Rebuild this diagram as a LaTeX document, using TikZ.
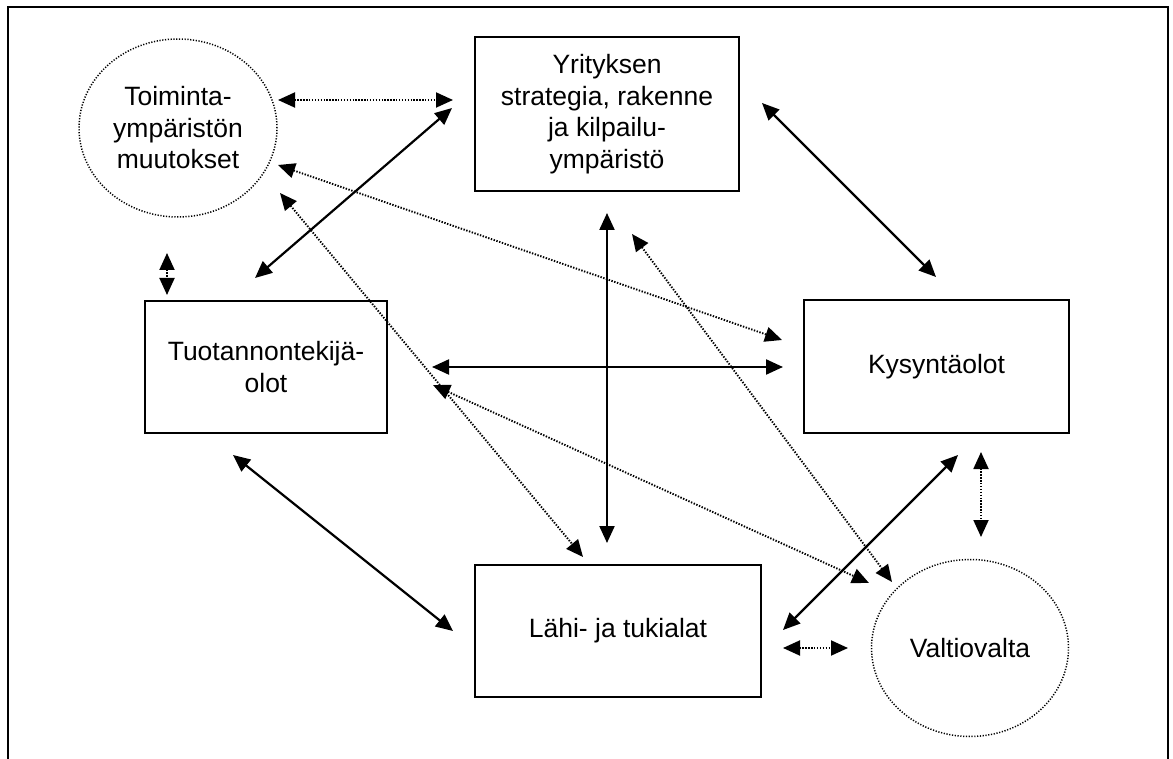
\documentclass[tikz,border=0pt]{standalone}
\usepackage{fontspec}
\setmainfont{Liberation Sans}
\usetikzlibrary{arrows.meta,shapes.geometric}
\begin{document}
\begin{tikzpicture}[x=1pt,y=-1pt,
  every node/.style={font=\fontsize{26.5}{31.5}\selectfont, align=center, inner sep=0pt},
  boxnode/.style={draw, line width=2.3pt, rectangle},
  ovalnode/.style={draw, line width=1.5pt, ellipse, dash pattern=on 1.2pt off 1.6pt},
  solidlink/.style={line width=2.2pt, {Triangle[length=17pt,width=15pt]}-{Triangle[length=17pt,width=15pt]}},
  dotlink/.style={line width=1.9pt, dash pattern=on 1.4pt off 1.5pt, {Triangle[length=17pt,width=15pt]}-{Triangle[length=17pt,width=15pt]}},
  frameline/.style={line width=2.3pt}
]
\useasboundingbox (0,0) rectangle (1173,759);
\draw[frameline] (8,759) -- (8,7) -- (1168,7) -- (1168,759);

\node[ovalnode, minimum width=198pt, minimum height=178pt] (toim) at (178,128) {Toiminta-\\ympäristön\\muutokset};
\node[boxnode, minimum width=264pt, minimum height=154pt] (yrit) at (607,114) {Yrityksen\\strategia, rakenne\\ja kilpailu-\\ympäristö};
\node[boxnode, minimum width=242pt, minimum height=132pt] (tuot) at (266,367) {Tuotannontekijä-\\olot};
\node[boxnode, minimum width=265pt, minimum height=133pt] (kys) at (936.5,366.5) {Kysyntäolot};
\node[boxnode, minimum width=286pt, minimum height=132pt] (lahi) at (618,631) {Lähi- ja tukialat};
\node[ovalnode, minimum width=197pt, minimum height=177pt] (valt) at (970,648) {Valtiovalta};

% connector end points
\coordinate (t1) at (278,100);  \coordinate (y1) at (453,100);
\coordinate (y2) at (452,108);  \coordinate (u1) at (255,278);
\coordinate (t2) at (278,165);  \coordinate (k1) at (782,340);
\coordinate (t3) at (280,193);  \coordinate (l1) at (583,557);
\coordinate (t4) at (167,253);  \coordinate (u2) at (167,295);
\coordinate (y3) at (762,103);  \coordinate (k2) at (936,277);
\coordinate (y4) at (607,213);  \coordinate (l2) at (607,543);
\coordinate (y5) at (632,234);  \coordinate (v1) at (892,582);
\coordinate (u3) at (432,367);  \coordinate (k3) at (783,367);
\coordinate (u4) at (433,385);  \coordinate (v2) at (869,583);
\coordinate (u5) at (233,455);  \coordinate (l3) at (453,631);
\coordinate (k4) at (958,455);  \coordinate (l4) at (783,630);
\coordinate (k5) at (981,452);  \coordinate (v3) at (981,537);
\coordinate (l5) at (783,648);  \coordinate (v4) at (848,648);

\draw[dotlink] (t1) -- (y1);
\draw[solidlink] (y2) -- (u1);
\draw[dotlink] (t2) -- (k1);
\draw[dotlink] (t3) -- (l1);
\draw[dotlink] (t4) -- (u2);
\draw[solidlink] (y3) -- (k2);
\draw[solidlink] (y4) -- (l2);
\draw[dotlink] (y5) -- (v1);
\draw[solidlink] (u3) -- (k3);
\draw[dotlink] (u4) -- (v2);
\draw[solidlink] (u5) -- (l3);
\draw[solidlink] (k4) -- (l4);
\draw[dotlink] (k5) -- (v3);
\draw[dotlink] (l5) -- (v4);
\end{tikzpicture}
\end{document}
